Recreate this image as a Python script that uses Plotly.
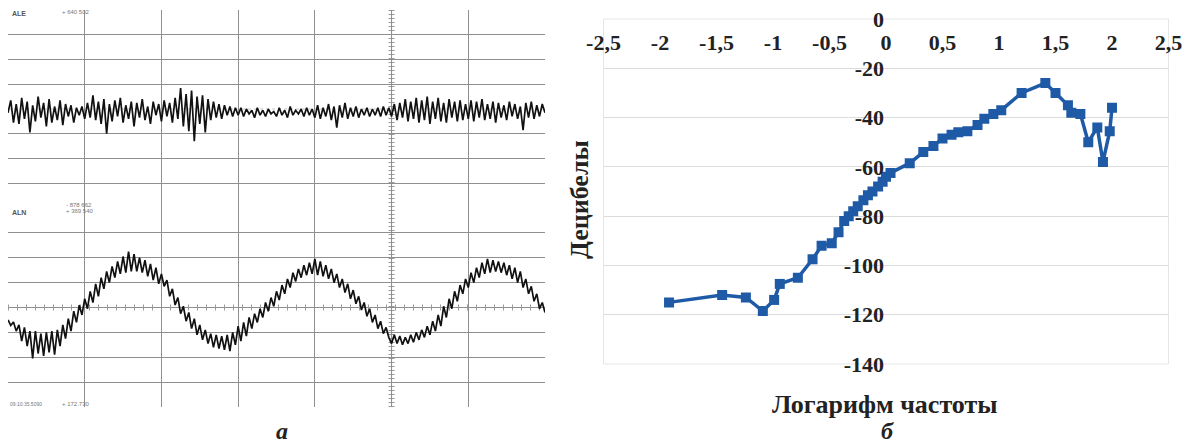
import plotly.graph_objects as go

# ---------------- right panel (б): spectrum ----------------
log_freq = [-1.92, -1.45, -1.24, -1.09, -0.99, -0.94, -0.78, -0.65, -0.57, -0.48,
            -0.42, -0.37, -0.33, -0.29, -0.25, -0.20, -0.16, -0.12, -0.07, -0.03,
            0.00, 0.04, 0.21, 0.33, 0.42, 0.50, 0.58, 0.64, 0.72, 0.81,
            0.87, 0.95, 1.02, 1.20, 1.41, 1.50, 1.61, 1.64, 1.72, 1.79,
            1.87, 1.92, 1.98, 2.00]
decibels = [-115, -112, -113, -118.5, -114, -107.5, -105, -97.5, -92, -91,
            -86.5, -82, -80, -78, -76, -73.5, -71.5, -70, -68, -66,
            -64, -62.5, -58.5, -54, -51.5, -48.5, -47, -46, -45.5, -43,
            -40.5, -38.5, -37, -30, -26, -30, -35, -38, -38.5, -50,
            -44, -58, -45.5, -36]
x_tick_vals = [-2.5, -2, -1.5, -1, -0.5, 0, 0.5, 1, 1.5, 2, 2.5]
x_tick_text = ["-2,5", "-2", "-1,5", "-1", "-0,5", "0", "0,5", "1", "1,5", "2", "2,5"]
y_tick_vals = [-140, -120, -100, -80, -60, -40, -20, 0]
y_tick_text = ["-140", "-120", "-100", "-80", "-60", "-40", "-20", "0"]

# ---------------- left panel (а): oscillograms (divisions) ----------------
ale_signal = [
    -0.15, 0.35, -0.55, 0.20, -0.60, 0.45, -0.40, 0.30, -0.95, 0.15, -0.50, 0.50, -0.35, 0.25,
    -0.70, 0.40, -0.55, 0.10, -0.45, 0.35, -0.65, 0.20, -0.30, 0.15, -0.55, 0.05, -0.25, 0.10,
    -0.40, 0.25, -0.35, 0.55, -0.45, 0.30, -0.60, 0.40, -1.00, 0.20, -0.50, 0.35, -0.30, 0.45,
    -0.55, 0.15, -0.40, 0.30, -0.70, 0.25, -0.35, 0.40, -0.45, 0.10, -0.60, 0.30, -0.25, 0.20,
    -0.50, 0.35, -0.30, 0.25, -0.55, 0.45, -0.40, 0.85, -0.70, 0.60, -0.90, 0.75, -1.30, 0.50,
    -0.60, 0.55, -0.95, 0.40, -0.45, 0.30, -0.35, 0.20, -0.40, 0.15, -0.25, 0.10, -0.30, 0.05,
    -0.25, 0.05, -0.30, 0.00, -0.20, -0.05, -0.35, 0.05, -0.25, -0.05, -0.30, 0.00, -0.20, -0.10,
    -0.30, 0.05, -0.25, -0.05, -0.35, 0.10, -0.25, -0.05, -0.20, 0.00, -0.30, 0.05, -0.25, 0.00,
    -0.35, 0.15, -0.40, 0.05, -0.30, 0.20, -0.45, 0.10, -0.75, 0.15, -0.35, 0.25, -0.40, 0.05,
    -0.30, 0.10, -0.35, 0.00, -0.25, 0.05, -0.30, 0.00, -0.25, 0.05, -0.30, 0.10, -0.25, 0.05,
    -0.30, 0.20, -0.45, 0.25, -0.35, 0.40, -0.50, 0.30, -0.40, 0.45, -0.55, 0.35, -0.45, 0.50,
    -0.60, 0.30, -0.40, 0.45, -0.50, 0.25, -0.55, 0.40, -0.35, 0.30, -0.50, 0.35, -0.45, 0.20,
    -0.40, 0.35, -0.50, 0.30, -0.35, 0.40, -0.45, 0.20, -0.40, 0.30, -0.55, 0.25, -0.35, 0.15,
    -0.45, 0.30, -0.30, 0.20, -0.40, 0.10, -0.85, 0.25, -0.35, 0.30, -0.40, 0.15, -0.30, 0.20,
    -0.15,
]
aln_signal = [
    -0.50, -0.72, -0.58, -0.95, -0.70, -1.35, -0.80, -1.55, -0.95, -2.05, -0.95, -1.85, -1.05, -1.95,
    -1.00, -1.80, -0.95, -1.90, -0.90, -1.55, -0.70, -1.25, -0.45, -0.95, -0.15, -0.60, 0.10, -0.30,
    0.35, -0.05, 0.65, 0.20, 0.95, 0.45, 1.20, 0.75, 1.45, 1.00, 1.65, 1.20, 1.85, 1.35,
    2.05, 1.40, 2.25, 1.45, 2.15, 1.45, 2.00, 1.40, 1.90, 1.25, 1.75, 1.10, 1.60, 0.95,
    1.35, 0.85, 1.10, 0.45, 0.75, 0.10, 0.40, -0.25, 0.05, -0.55, -0.20, -0.85, -0.45, -1.10,
    -0.70, -1.30, -0.90, -1.45, -1.05, -1.60, -1.10, -1.65, -1.15, -1.70, -1.10, -1.75, -1.00, -1.50,
    -0.75, -1.35, -0.60, -1.15, -0.40, -0.85, -0.25, -0.60, -0.05, -0.40, 0.20, -0.15, 0.40, 0.05,
    0.65, 0.30, 0.90, 0.55, 1.15, 0.80, 1.40, 1.05, 1.55, 1.20, 1.70, 1.30, 1.80, 1.35,
    1.95, 1.30, 1.85, 1.25, 1.70, 1.15, 1.55, 1.00, 1.35, 0.80, 1.15, 0.60, 0.95, 0.35,
    0.70, 0.15, 0.45, -0.10, 0.20, -0.35, -0.05, -0.60, -0.30, -0.85, -0.55, -1.05, -0.80, -1.20,
    -1.45, -1.10, -1.45, -1.15, -1.50, -1.20, -1.45, -1.10, -1.40, -1.00, -1.30, -0.90, -1.20, -0.75,
    -1.10, -0.55, -0.95, -0.30, -0.75, 0.05, -0.40, 0.35, -0.05, 0.65, 0.25, 0.90, 0.55, 1.15,
    0.80, 1.40, 1.00, 1.60, 1.20, 1.80, 1.35, 1.95, 1.40, 1.90, 1.45, 1.85, 1.40, 1.80,
    1.30, 1.70, 1.15, 1.60, 1.00, 1.45, 0.80, 1.15, 0.55, 0.85, 0.25, 0.55, -0.05, 0.20,
    -0.20,
]
samples = list(range(len(aln_signal)))
division_ticks = [28, 56, 84, 112, 140, 168, 196]

SERIF = "Liberation Serif"
GRID_DARK = "#8f8f8f"
BLUE = "#1f5aa6"

fig = go.Figure()

fig.add_trace(go.Scatter(
    x=log_freq, y=decibels, mode="lines+markers",
    line=dict(color=BLUE, width=3.5),
    marker=dict(symbol="square", size=10, color=BLUE),
    xaxis="x", yaxis="y", hoverinfo="skip"))

fig.add_trace(go.Scatter(
    x=samples, y=ale_signal, mode="lines",
    line=dict(color="#111111", width=1.7),
    xaxis="x2", yaxis="y2", hoverinfo="skip"))

fig.add_trace(go.Scatter(
    x=samples, y=aln_signal, mode="lines",
    line=dict(color="#111111", width=1.7),
    xaxis="x3", yaxis="y3", hoverinfo="skip"))

tick_font = dict(family=SERIF, size=22, color="#222222", weight="bold")

left_dom = [8 / 1192, 545 / 1192]
top_dom = [1 - 208 / 445, 1 - 10 / 445]
bot_dom = [1 - 407 / 445, 1 - 208 / 445]

fig.update_layout(
    width=1192, height=445,
    margin=dict(l=0, r=0, t=0, b=0, autoexpand=False),
    paper_bgcolor="white", plot_bgcolor="white",
    showlegend=False,
    xaxis=dict(domain=[603.5 / 1192, 1168.5 / 1192], range=[-2.5, 2.5],
               anchor="free", position=1 - 19 / 445, side="bottom", automargin=False,
               tickmode="array", tickvals=x_tick_vals, ticktext=x_tick_text,
               showgrid=False, zeroline=False, showline=False, ticks="",
               tickfont=tick_font, ticklabelstandoff=8),
    yaxis=dict(domain=[1 - 364 / 445, 1 - 19 / 445], range=[-140, 0],
               anchor="free", position=886 / 1192, side="left", automargin=False,
               tickmode="array", tickvals=y_tick_vals, ticktext=y_tick_text,
               showgrid=True, gridcolor="#dcdcdc", gridwidth=1,
               zeroline=False, showline=False, ticks="",
               tickfont=tick_font, ticklabelstandoff=2),
    xaxis2=dict(domain=left_dom, range=[0, 196], anchor="y2", automargin=False,
                tickmode="array", tickvals=division_ticks, showticklabels=False,
                showgrid=True, gridcolor=GRID_DARK, gridwidth=1,
                zeroline=False, showline=False, ticks=""),
    yaxis2=dict(domain=top_dom, range=[-4, 4], anchor="x2", automargin=False,
                tickmode="array", tickvals=[-3, -2, -1, 1, 2, 3, 4], showticklabels=False,
                showgrid=True, gridcolor=GRID_DARK, gridwidth=1,
                zeroline=False, showline=False, ticks=""),
    xaxis3=dict(domain=left_dom, range=[0, 196], anchor="y3", automargin=False,
                tickmode="array", tickvals=division_ticks, showticklabels=False,
                showgrid=True, gridcolor=GRID_DARK, gridwidth=1,
                zeroline=False, showline=False, ticks=""),
    yaxis3=dict(domain=bot_dom, range=[-4, 4], anchor="x3", automargin=False,
                tickmode="array", tickvals=[-4, -3, -2, -1, 1, 2, 3, 4], showticklabels=False,
                showgrid=True, gridcolor=GRID_DARK, gridwidth=1,
                zeroline=False, showline=False, ticks=""),
)

shapes = [
    # light border of the spectrum plot area
    dict(type="rect", xref="paper", yref="paper",
         x0=603.5 / 1192, x1=1168.5 / 1192, y0=1 - 364 / 445, y1=1 - 19 / 445,
         line=dict(color="#e6e6e6", width=1), layer="below"),
    # top-panel faint centre line
    dict(type="line", xref="x2", yref="y2", x0=0, x1=196, y0=0, y1=0,
         line=dict(color="#c8c8c8", width=1, dash="dot"), layer="below"),
    # bottom-panel ticked centre line
    dict(type="line", xref="x3", yref="y3", x0=0, x1=196, y0=0, y1=0,
         line=dict(color=GRID_DARK, width=1), layer="below"),
    dict(type="line", xref="x3", yref="y3", x0=0, x1=196, y0=0, y1=0,
         line=dict(color="#9a9a9a", width=6, dash="1px,8px"), layer="below"),
    # vertical ticked centre line across both panels
    dict(type="line", xref="x3", yref="paper", x0=140, x1=140, y0=bot_dom[0], y1=top_dom[1],
         line=dict(color=GRID_DARK, width=1), layer="below"),
    dict(type="line", xref="x3", yref="paper", x0=140, x1=140, y0=bot_dom[0], y1=top_dom[1],
         line=dict(color="#9a9a9a", width=6, dash="1px,3px"), layer="below"),
]
fig.update_layout(shapes=shapes)

small = dict(family="Arial", size=7, color="#555555")
annotations = [
    dict(text="<b>ALE</b>", x=10 / 1192, y=1 - 13 / 445, xanchor="left", yanchor="middle", font=small),
    dict(text="+ 640 502", x=60 / 1192, y=1 - 12 / 445, xanchor="left", yanchor="middle",
         font=dict(family="Arial", size=6, color="#777777")),
    dict(text="<b>ALN</b>", x=10 / 1192, y=1 - 212 / 445, xanchor="left", yanchor="middle", font=small),
    dict(text="- 878 662", x=64 / 1192, y=1 - 205 / 445, xanchor="left", yanchor="middle",
         font=dict(family="Arial", size=6, color="#777777")),
    dict(text="+ 369 540", x=64 / 1192, y=1 - 211 / 445, xanchor="left", yanchor="middle",
         font=dict(family="Arial", size=6, color="#777777")),
    dict(text="09:10:35.5090", x=8 / 1192, y=1 - 404 / 445, xanchor="left", yanchor="middle",
         font=dict(family="Arial", size=5, color="#777777")),
    dict(text="+ 172.730", x=60 / 1192, y=1 - 404 / 445, xanchor="left", yanchor="middle",
         font=dict(family="Arial", size=6, color="#777777")),
    dict(text="<b><i>а</i></b>", x=282 / 1192, y=1 - 431 / 445, xanchor="center", yanchor="middle",
         font=dict(family=SERIF, size=24, color="#222222")),
    dict(text="<b><i>б</i></b>", x=887 / 1192, y=1 - 431 / 445, xanchor="center", yanchor="middle",
         font=dict(family=SERIF, size=24, color="#222222")),
    dict(text="<b>Логарифм частоты</b>", x=885 / 1192, y=1 - 404 / 445, xanchor="center", yanchor="middle",
         font=dict(family=SERIF, size=26, color="#222222")),
    dict(text="<b>Децибелы</b>", x=579 / 1192, y=1 - 200 / 445, xanchor="center", yanchor="middle",
         textangle=-90, font=dict(family=SERIF, size=26, color="#222222")),
]
for a in annotations:
    a.update(xref="paper", yref="paper", showarrow=False)
fig.update_layout(annotations=annotations)

fig.write_html("out.html",
               config={"displayModeBar": False},
               post_script="document.body.style.margin='0';document.body.style.overflow='hidden';")
